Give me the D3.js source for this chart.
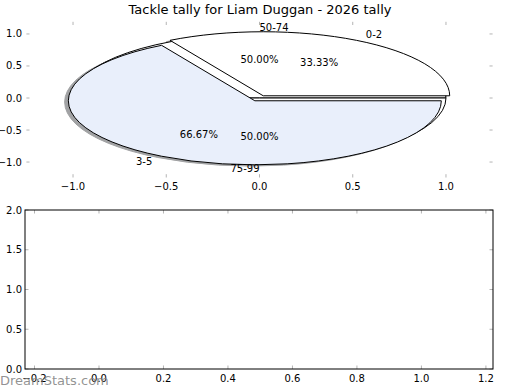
<!DOCTYPE html>
<html><head><meta charset="utf-8">
<script src="https://cdn.jsdelivr.net/npm/d3@7"></script>
<style>body{margin:0;background:#fff}svg{display:block}text{font-family:"DejaVu Sans",sans-serif}</style>
</head><body>
<svg id="c" width="520" height="390"></svg>
<script>
// ---- data ----
const title = "Tackle tally for Liam Duggan - 2026 tally";
const categoriesA = ["0-2", "3-5"];
const valuesA = [1, 2];
const colorsA = ["#ffffff", "#e9effb"];
const explodeA = [0.04, 0.05];
const categoriesB = ["50-74", "75-99"];
const valuesB = [1, 1];
const colorsB = ["#ffffff", "#ffffff"];
const pieXTicks = [-1.0, -0.5, 0.0, 0.5, 1.0];
const pieYTicks = [1.0, 0.5, 0.0, -0.5, -1.0];
const lowXTicks = [-0.2, 0.0, 0.2, 0.4, 0.6, 0.8, 1.0, 1.2];
const lowYTicks = [0.0, 0.5, 1.0, 1.5, 2.0];
const watermark = "DreamStats.com";

const svg = d3.select("#c");
const fmt1 = v => d3.format(".1f")(v).replace("-", "\u2212");

// ---- top (pie) axes ----
const x = d3.scaleLinear().domain([-1.25, 1.25]).range([26.4, 492.6]);
const y = d3.scaleLinear().domain([-1.19, 1.19]).range([174.2, 21.8]);
const kx = x(1) - x(0), ky = y(0) - y(1);

svg.append("text").attr("x", 260).attr("y", 14).attr("text-anchor", "middle")
  .attr("font-size", 13).text(title);

const tickCol = "#b4b4b4";
const gT = svg.append("g");
pieXTicks.forEach(t => {
  gT.append("line").attr("x1", x(t)).attr("x2", x(t)).attr("y1", 21.8).attr("y2", 25).attr("stroke", tickCol);
  gT.append("line").attr("x1", x(t)).attr("x2", x(t)).attr("y1", 174.2).attr("y2", 177.5).attr("stroke", tickCol);
  gT.append("text").attr("x", x(t)).attr("y", 190).attr("text-anchor", "middle").attr("font-size", 10).text(fmt1(t));
});
pieYTicks.forEach(t => {
  gT.append("line").attr("x1", 26.4).attr("x2", 29.5).attr("y1", y(t)).attr("y2", y(t)).attr("stroke", tickCol);
  gT.append("line").attr("x1", 489.5).attr("x2", 492.6).attr("y1", y(t)).attr("y2", y(t)).attr("stroke", tickCol);
  gT.append("text").attr("x", 22).attr("y", y(t)).attr("dy", "0.35em").attr("text-anchor", "end").attr("font-size", 10).text(fmt1(t));
});

const pie = d3.pie().sort(null).startAngle(Math.PI / 2).endAngle(Math.PI / 2 - 2 * Math.PI);
const arc = d3.arc().innerRadius(0).outerRadius(1);
const midTheta = d => Math.PI / 2 - (d.startAngle + d.endAngle) / 2;

const arcsA = pie(valuesA).map((d, i) => {
  const th = midTheta(d);
  return {d, i, th, cx: explodeA[i] * Math.cos(th), cy: explodeA[i] * Math.sin(th)};
});
const arcsB = pie(valuesB).map((d, i) => ({d, i, th: midTheta(d), cx: 0, cy: 0}));

function wedge(g, a, fill, stroke, op) {
  g.append("path").attr("d", arc(a.d))
    .attr("transform", `translate(${x(a.cx)},${y(a.cy)}) scale(${kx},${ky})`)
    .attr("fill", fill).attr("stroke", stroke).attr("stroke-width", 1)
    .attr("vector-effect", "non-scaling-stroke").attr("opacity", op);
}
const gPie = svg.append("g");
// shadows (drawn below all wedges)
arcsA.forEach(a => {
  const c = d3.rgb(colorsA[a.i]);
  const sc = d3.rgb(c.r * 0.3, c.g * 0.3, c.b * 0.3).toString();
  wedge(gPie, {d: a.d, cx: a.cx - 0.02, cy: a.cy - 0.02}, sc, sc, 0.5);
});
arcsB.forEach(a => wedge(gPie, a, colorsB[a.i], "#000", 1));
arcsA.forEach(a => wedge(gPie, a, colorsA[a.i], "#000", 1));

function labels(arcs, cats, vals) {
  const tot = d3.sum(vals);
  arcs.forEach(a => {
    const lx = a.cx + 1.1 * Math.cos(a.th), ly = a.cy + 1.1 * Math.sin(a.th);
    gPie.append("text").attr("x", x(lx)).attr("y", y(ly)).attr("dy", "0.35em")
      .attr("text-anchor", lx > 0 ? "start" : "end").attr("font-size", 10).text(cats[a.i]);
    const px = a.cx + 0.6 * Math.cos(a.th), py = a.cy + 0.6 * Math.sin(a.th);
    gPie.append("text").attr("x", x(px)).attr("y", y(py)).attr("dy", "0.35em")
      .attr("text-anchor", "middle").attr("font-size", 10)
      .text(d3.format(".2f")(vals[a.i] / tot * 100) + "%");
  });
}
labels(arcsA, categoriesA, valuesA);
labels(arcsB, categoriesB, valuesB);

// ---- bottom (empty) axes ----
const x2 = d3.scaleLinear().domain([-0.2295, 1.222]).range([25, 493]);
const y2 = d3.scaleLinear().domain([0, 2]).range([369, 210]);
const gB = svg.append("g");
lowXTicks.forEach(t => {
  gB.append("line").attr("x1", x2(t)).attr("x2", x2(t)).attr("y1", 210).attr("y2", 213.5).attr("stroke", tickCol);
  gB.append("line").attr("x1", x2(t)).attr("x2", x2(t)).attr("y1", 365.5).attr("y2", 369).attr("stroke", tickCol);
  gB.append("text").attr("x", x2(t)).attr("y", 382).attr("text-anchor", "middle").attr("font-size", 10).text(fmt1(t));
});
lowYTicks.forEach(t => {
  gB.append("line").attr("x1", 25).attr("x2", 28.5).attr("y1", y2(t)).attr("y2", y2(t)).attr("stroke", tickCol);
  gB.append("line").attr("x1", 489.5).attr("x2", 493).attr("y1", y2(t)).attr("y2", y2(t)).attr("stroke", tickCol);
  gB.append("text").attr("x", 22).attr("y", y2(t)).attr("dy", "0.35em").attr("text-anchor", "end").attr("font-size", 10).text(fmt1(t));
});
gB.append("rect").attr("x", 25).attr("y", 210).attr("width", 468).attr("height", 159)
  .attr("fill", "none").attr("stroke", "#000").attr("stroke-width", 1);

svg.append("text").attr("x", 0).attr("y", 385).attr("font-size", 13)
  .attr("fill", "#808080").attr("fill-opacity", 0.85).text(watermark);
</script>
</body></html>
